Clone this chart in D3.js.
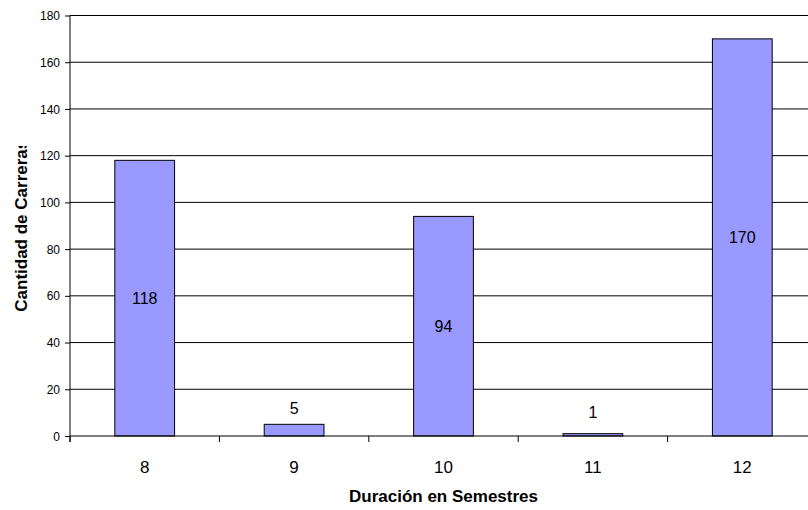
<!DOCTYPE html>
<html>
<head>
<meta charset="utf-8">
<script src="https://cdn.jsdelivr.net/npm/d3@7"></script>
<style>
  html, body { margin: 0; padding: 0; background: #fff; }
  svg { display: block; font-family: "Liberation Sans", Arial, sans-serif; }
</style>
</head>
<body>
<svg id="chart" width="808" height="510"></svg>
<script>
// Number of degree programmes by length (semesters)
const categories = ["8", "9", "10", "11", "12"];
const values = [118, 5, 94, 1, 170];
const yTicks = [0, 20, 40, 60, 80, 100, 120, 140, 160, 180];
const xTitle = "Duración en Semestres";
const yTitle = "Cantidad de Carreras";

const svg = d3.select("#chart");
const plot = { left: 70, right: 817, top: 15.5, bottom: 436 };

const slot = d3.scaleBand().domain(categories).range([plot.left, plot.right]).padding(0);
const y = d3.scaleLinear().domain([0, 180]).range([plot.bottom, plot.top]);

// horizontal gridlines
svg.append("g")
  .selectAll("line")
  .data(yTicks.filter(t => t > 0))
  .join("line")
  .attr("x1", plot.left).attr("x2", plot.right)
  .attr("y1", d => y(d)).attr("y2", d => y(d))
  .attr("stroke", "#000").attr("stroke-width", 1);

// y axis
const yAxis = d3.axisLeft(y).tickValues(yTicks).tickSize(5).tickPadding(5);
const gy = svg.append("g").attr("transform", `translate(${plot.left},0)`).call(yAxis);
gy.select(".domain").attr("stroke", "#000").attr("d", `M0,${plot.top}V${plot.bottom + 6}`);
gy.selectAll(".tick text").attr("font-size", 12).attr("fill", "#000").attr("dy", "0.34em");

// bars
const bw = slot.bandwidth();
svg.append("g")
  .selectAll("rect")
  .data(categories)
  .join("rect")
  .attr("x", (d) => slot(d) + bw * 0.3)
  .attr("width", bw * 0.4)
  .attr("y", (d, i) => y(values[i]))
  .attr("height", (d, i) => y(0) - y(values[i]))
  .attr("fill", "#9999FF")
  .attr("stroke", "#000")
  .attr("stroke-width", 1);

// x axis line and category boundary ticks
svg.append("line")
  .attr("x1", plot.left).attr("x2", plot.right)
  .attr("y1", plot.bottom).attr("y2", plot.bottom)
  .attr("stroke", "#000");
svg.append("g")
  .selectAll("line")
  .data(categories.map(c => slot(c)).concat([plot.right]))
  .join("line")
  .attr("x1", d => d).attr("x2", d => d)
  .attr("y1", plot.bottom).attr("y2", plot.bottom + 6)
  .attr("stroke", "#000");

// category labels
svg.append("g")
  .selectAll("text")
  .data(categories)
  .join("text")
  .attr("x", d => slot(d) + bw / 2)
  .attr("y", 473)
  .attr("text-anchor", "middle")
  .attr("font-size", 17)
  .text(d => d);

// value labels: centred in tall bars, above short ones
svg.append("g")
  .selectAll("text")
  .data(categories)
  .join("text")
  .attr("x", d => slot(d) + bw / 2)
  .attr("y", (d, i) => {
    const v = values[i];
    return (y(0) - y(v) > 30) ? y(v / 2) : y(v / 2) - 22;
  })
  .attr("dy", "0.35em")
  .attr("text-anchor", "middle")
  .attr("font-size", 16)
  .text((d, i) => values[i]);

// axis titles
svg.append("text")
  .attr("x", (plot.left + plot.right) / 2)
  .attr("y", 502)
  .attr("text-anchor", "middle")
  .attr("font-size", 17)
  .attr("font-weight", "bold")
  .text(xTitle);

// the vertical title box is narrower than its text, so the end is clipped
svg.append("defs").append("clipPath").attr("id", "ytitle-clip")
  .append("rect").attr("x", 0).attr("y", 146).attr("width", 60).attr("height", 300);

svg.append("g").attr("clip-path", "url(#ytitle-clip)")
  .append("text")
  .attr("transform", `translate(27,${(plot.top + plot.bottom) / 2}) rotate(-90)`)
  .attr("text-anchor", "middle")
  .attr("font-size", 17)
  .attr("font-weight", "bold")
  .text(yTitle);
</script>
</body>
</html>
